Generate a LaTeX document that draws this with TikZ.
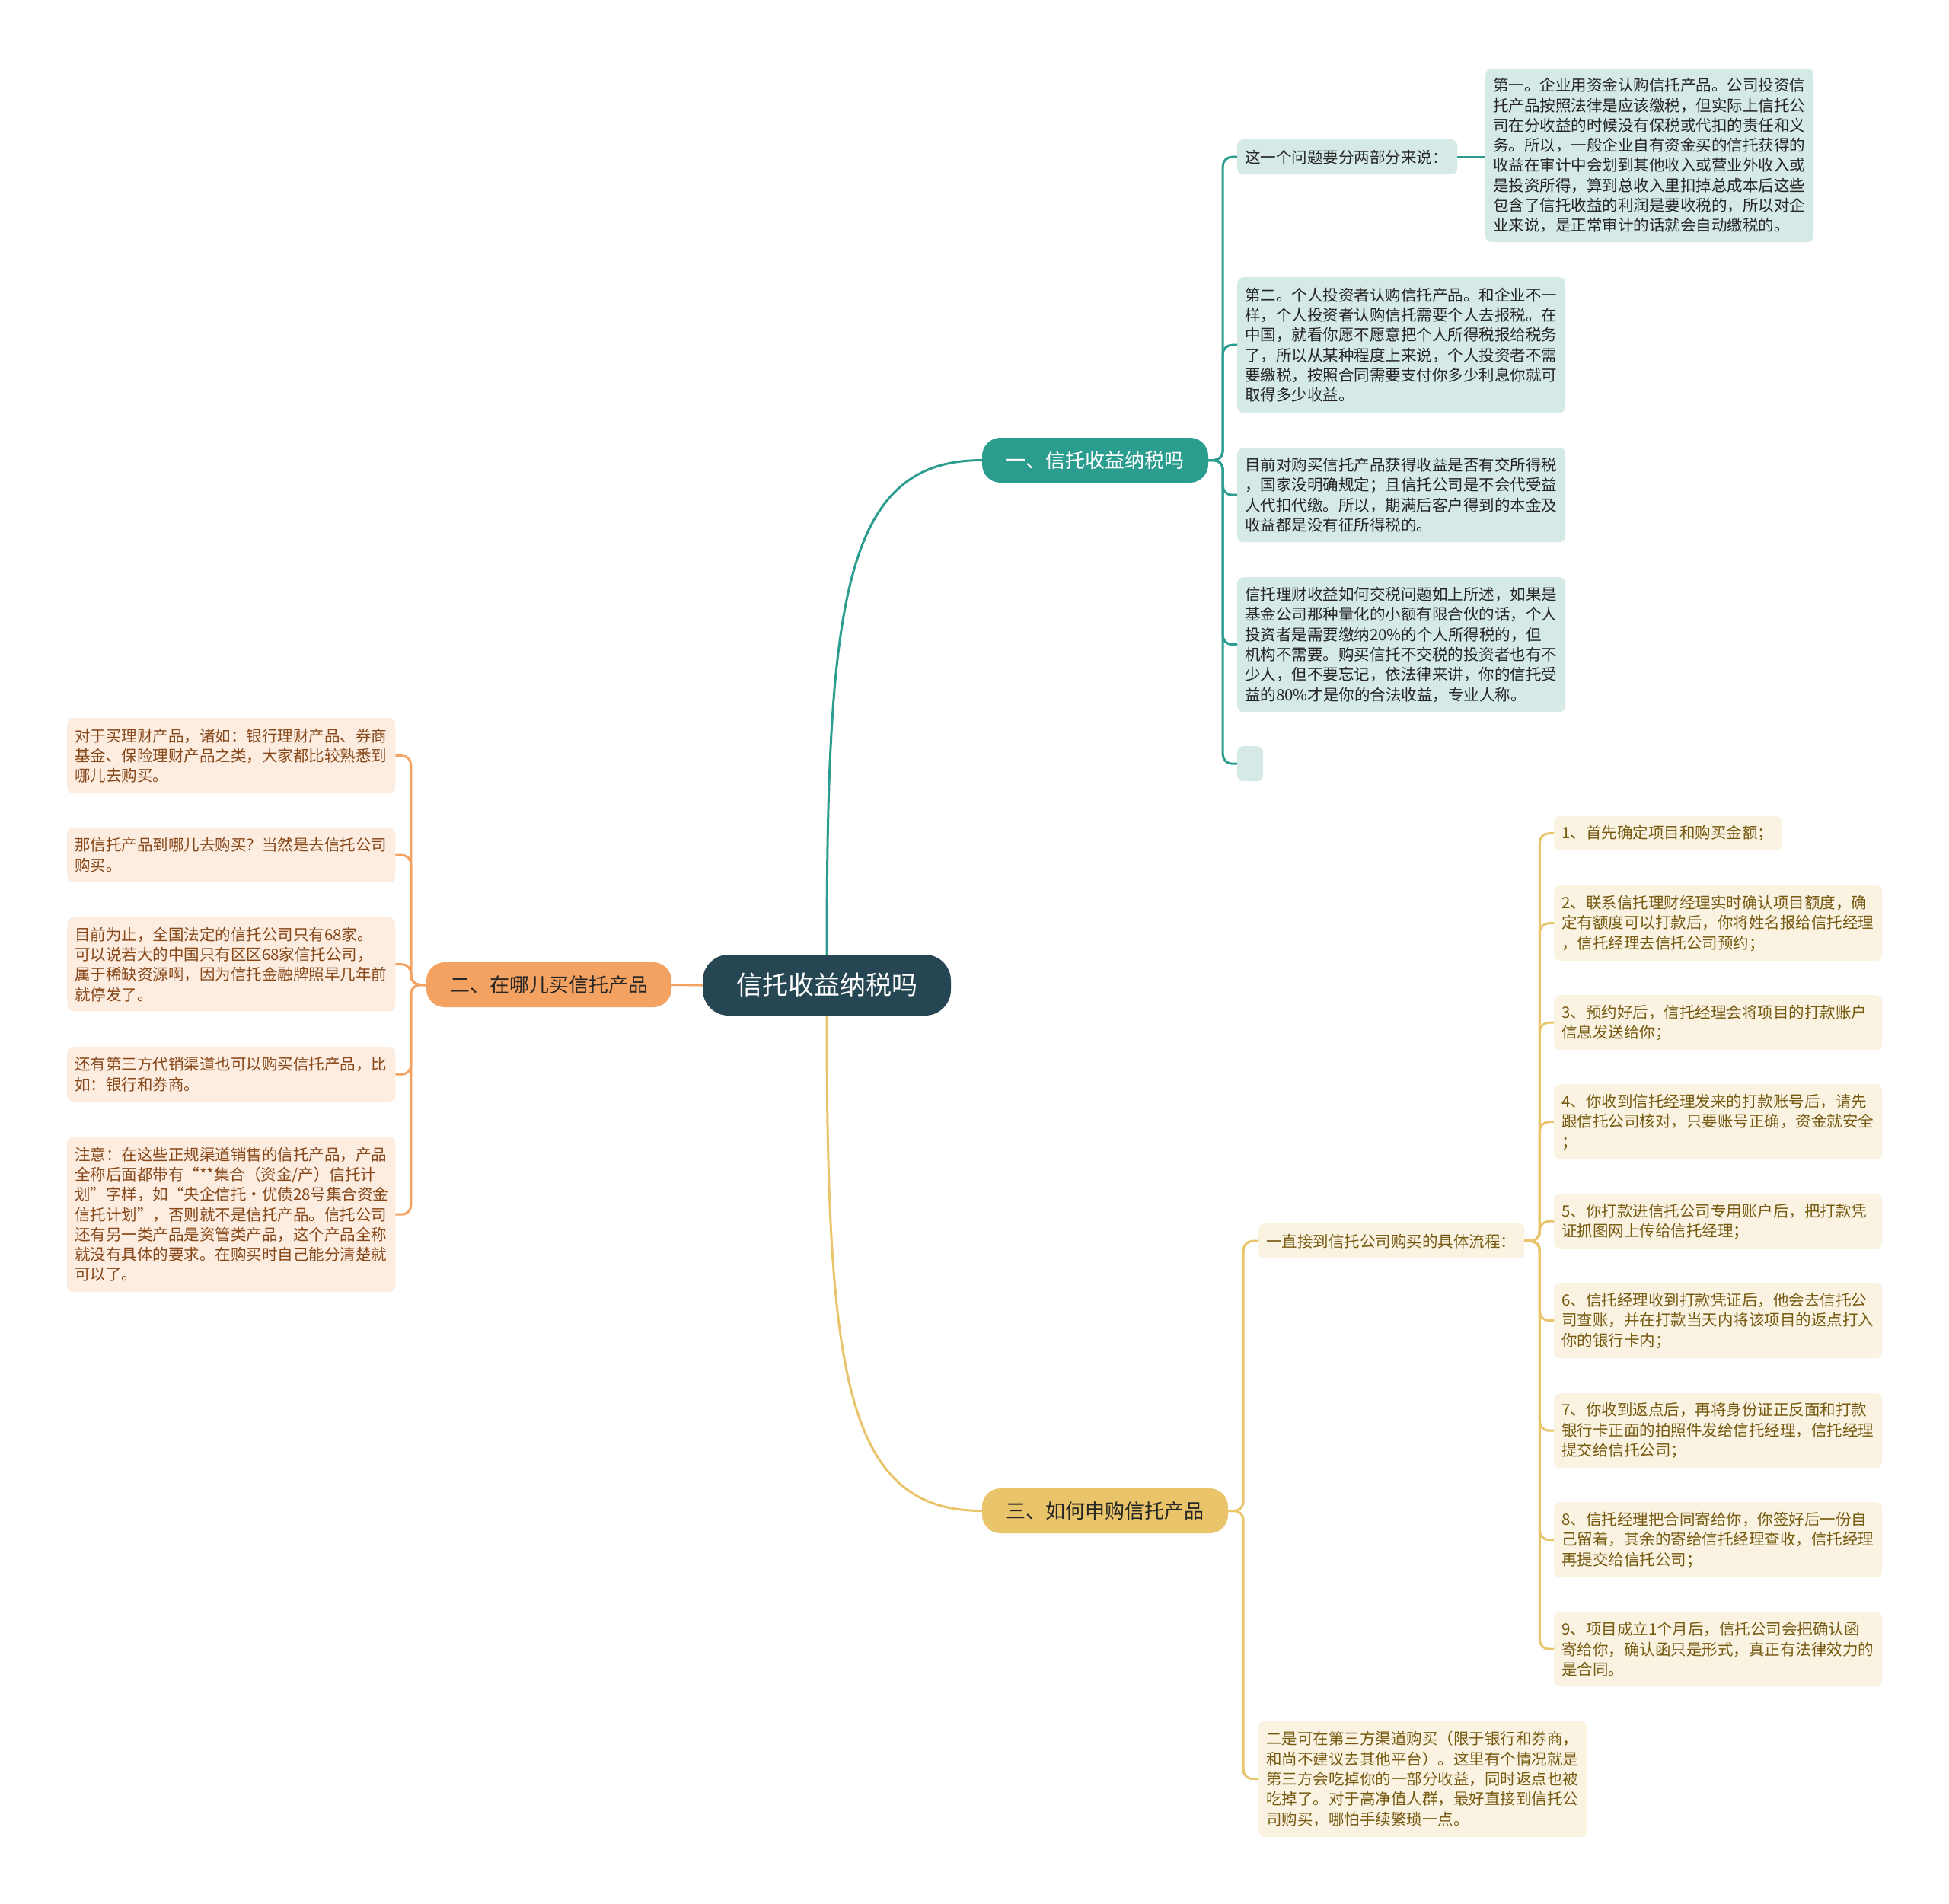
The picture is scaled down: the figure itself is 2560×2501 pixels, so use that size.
\documentclass[tikz,border=0pt]{standalone}
\usepackage{fontspec}
\setmainfont{Noto Sans CJK SC}
\usepackage{xcolor}
\usepackage{tikz}
\usetikzlibrary{positioning,calc}
\definecolor{rootcol}{RGB}{38,70,83}
\definecolor{tealcol}{RGB}{42,157,143}
\definecolor{tealfill}{RGB}{213,233,231}
\definecolor{orangecol}{RGB}{244,162,97}
\definecolor{orangefill}{RGB}{253,236,224}
\definecolor{orangetext}{RGB}{135,72,25}
\definecolor{goldcol}{RGB}{233,196,106}
\definecolor{goldfill}{RGB}{251,243,226}
\definecolor{goldtext}{RGB}{118,90,18}

\begin{document}
\begin{tikzpicture}[x=1pt, y=-1pt,
  root/.style={rectangle, rounded corners=34pt, fill=rootcol, text=white, minimum width=326pt, minimum height=80pt, font=\fontsize{34}{40}\selectfont},
  topic/.style={rectangle, rounded corners=24pt, minimum height=59pt, font=\fontsize{26}{30}\selectfont},
  leaf/.style={rectangle, rounded corners=8pt, anchor=north west, align=left, inner xsep=10pt, inner ysep=0pt, text width=411pt, font=\fontsize{20.5}{26.3}\selectfont},
  tleaf/.style={leaf, fill=tealfill, text=black!85},
  oleaf/.style={leaf, fill=orangefill, text=orangetext},
  gleaf/.style={leaf, fill=goldfill, text=goldtext},
  tline/.style={draw=tealcol, line width=3pt, rounded corners=12pt},
  oline/.style={draw=orangecol, line width=3pt, rounded corners=12pt},
  gline/.style={draw=goldcol, line width=3pt, rounded corners=12pt}
]
  \fill[white] (0,0) rectangle (2560,2501);
  \useasboundingbox (0,0) rectangle (2560,2501);

  % centre and main topics
  \node[root] (root) at (1086,1294) {信托收益纳税吗};
  \node[topic, fill=tealcol, text=white, minimum width=297pt] (t1) at (1438.5,604.5) {一、信托收益纳税吗};
  \node[topic, fill=orangecol, text=black!85, minimum width=322pt] (t2) at (721,1293.5) {二、在哪儿买信托产品};
  \node[topic, fill=goldcol, text=black!85, minimum width=323pt] (t3) at (1451.5,1984.5) {三、如何申购信托产品};

  \draw[tealcol, line width=3pt] (root.north) .. controls +(0,-470) and +(-180,0) .. (t1.west);
  \draw[goldcol, line width=3pt] (root.south) .. controls +(0,470) and +(-180,0) .. (t3.west);
  \draw[orangecol, line width=3pt] (root.west) -- (t2.east);

  % topic one
  \node[tleaf, text width=269pt, minimum height=46pt] (a1) at (1625,183) {这一个问题要分两部分来说：};
  \node[tleaf, minimum height=228pt] (a1x) at (1951,90) {第一。企业用资金认购信托产品。公司投资信\\托产品按照法律是应该缴税，但实际上信托公\\司在分收益的时候没有保税或代扣的责任和义\\务。所以，一般企业自有资金买的信托获得的\\收益在审计中会划到其他收入或营业外收入或\\是投资所得，算到总收入里扣掉总成本后这些\\包含了信托收益的利润是要收税的，所以对企\\业来说，是正常审计的话就会自动缴税的。};
  \node[tleaf, minimum height=178pt] (a2) at (1625,364) {第二。个人投资者认购信托产品。和企业不一\\样，个人投资者认购信托需要个人去报税。在\\中国，就看你愿不愿意把个人所得税报给税务\\了，所以从某种程度上来说，个人投资者不需\\要缴税，按照合同需要支付你多少利息你就可\\取得多少收益。};
  \node[tleaf, minimum height=124pt] (a3) at (1625,588) {目前对购买信托产品获得收益是否有交所得税\\，国家没明确规定；且信托公司是不会代受益\\人代扣代缴。所以，期满后客户得到的本金及\\收益都是没有征所得税的。};
  \node[tleaf, minimum height=177pt] (a4) at (1625,758) {信托理财收益如何交税问题如上所述，如果是\\基金公司那种量化的小额有限合伙的话，个人\\投资者是需要缴纳20\%的个人所得税的，但\\机构不需要。购买信托不交税的投资者也有不\\少人，但不要忘记，依法律来讲，你的信托受\\益的80\%才是你的合法收益，专业人称。};
  \node[tleaf, text width=14pt, minimum height=46pt] (a5) at (1625,980) {};

  \foreach \n in {a1,a2,a3,a4,a5} \draw[tline] (t1.east) -- ++(19,0) |- (\n.west);
  \draw[tealcol, line width=3pt] (a1.east) -- (a1.east -| a1x.west);

  % topic two
  \node[oleaf, minimum height=99pt] (b1) at (88,943) {对于买理财产品，诸如：银行理财产品、券商\\基金、保险理财产品之类，大家都比较熟悉到\\哪儿去购买。};
  \node[oleaf, minimum height=72pt] (b2) at (88,1087) {那信托产品到哪儿去购买？当然是去信托公司\\购买。};
  \node[oleaf, minimum height=123pt] (b3) at (88,1205) {目前为止，全国法定的信托公司只有68家。\\可以说若大的中国只有区区68家信托公司，\\属于稀缺资源啊，因为信托金融牌照早几年前\\就停发了。};
  \node[oleaf, minimum height=72pt] (b4) at (88,1375) {还有第三方代销渠道也可以购买信托产品，比\\如：银行和券商。};
  \node[oleaf, minimum height=204pt] (b5) at (88,1493) {注意：在这些正规渠道销售的信托产品，产品\\全称后面都带有“**集合（资金/产）信托计\\划”字样，如“央企信托•优债28号集合资金\\信托计划”，否则就不是信托产品。信托公司\\还有另一类产品是资管类产品，这个产品全称\\就没有具体的要求。在购买时自己能分清楚就\\可以了。};

  \foreach \n in {b1,b2,b3,b4,b5} \draw[oline] (t2.west) -- ++(-20,0) |- (\n.east);

  % topic three
  \node[gleaf, text width=329pt, minimum height=46pt] (c1) at (1653,1607) {一直接到信托公司购买的具体流程：};
  \node[gleaf, minimum height=153pt] (c2) at (1653,2260) {二是可在第三方渠道购买（限于银行和券商，\\和尚不建议去其他平台）。这里有个情况就是\\第三方会吃掉你的一部分收益，同时返点也被\\吃掉了。对于高净值人群，最好直接到信托公\\司购买，哪怕手续繁琐一点。};

  \foreach \n in {c1,c2} \draw[gline] (t3.east) -- ++(20,0) |- (\n.west);

  \node[gleaf, text width=279pt, minimum height=45pt] (s1) at (2041,1072) {1、首先确定项目和购买金额；};
  \node[gleaf, minimum height=99pt] (s2) at (2041,1163) {2、联系信托理财经理实时确认项目额度，确\\定有额度可以打款后，你将姓名报给信托经理\\，信托经理去信托公司预约；};
  \node[gleaf, minimum height=72pt] (s3) at (2041,1307) {3、预约好后，信托经理会将项目的打款账户\\信息发送给你；};
  \node[gleaf, minimum height=99pt] (s4) at (2041,1424) {4、你收到信托经理发来的打款账号后，请先\\跟信托公司核对，只要账号正确，资金就安全\\；};
  \node[gleaf, minimum height=72pt] (s5) at (2041,1568) {5、你打款进信托公司专用账户后，把打款凭\\证抓图网上传给信托经理；};
  \node[gleaf, minimum height=99pt] (s6) at (2041,1685) {6、信托经理收到打款凭证后，他会去信托公\\司查账，并在打款当天内将该项目的返点打入\\你的银行卡内；};
  \node[gleaf, minimum height=98pt] (s7) at (2041,1830) {7、你收到返点后，再将身份证正反面和打款\\银行卡正面的拍照件发给信托经理，信托经理\\提交给信托公司；};
  \node[gleaf, minimum height=99pt] (s8) at (2041,1973) {8、信托经理把合同寄给你，你签好后一份自\\己留着，其余的寄给信托经理查收，信托经理\\再提交给信托公司；};
  \node[gleaf, minimum height=98pt] (s9) at (2041,2117) {9、项目成立1个月后，信托公司会把确认函\\寄给你，确认函只是形式，真正有法律效力的\\是合同。};

  \foreach \n in {s1,s2,s3,s4,s5,s6,s7,s8,s9} \draw[gline] (c1.east) -- ++(20,0) |- (\n.west);
\end{tikzpicture}
\end{document}
